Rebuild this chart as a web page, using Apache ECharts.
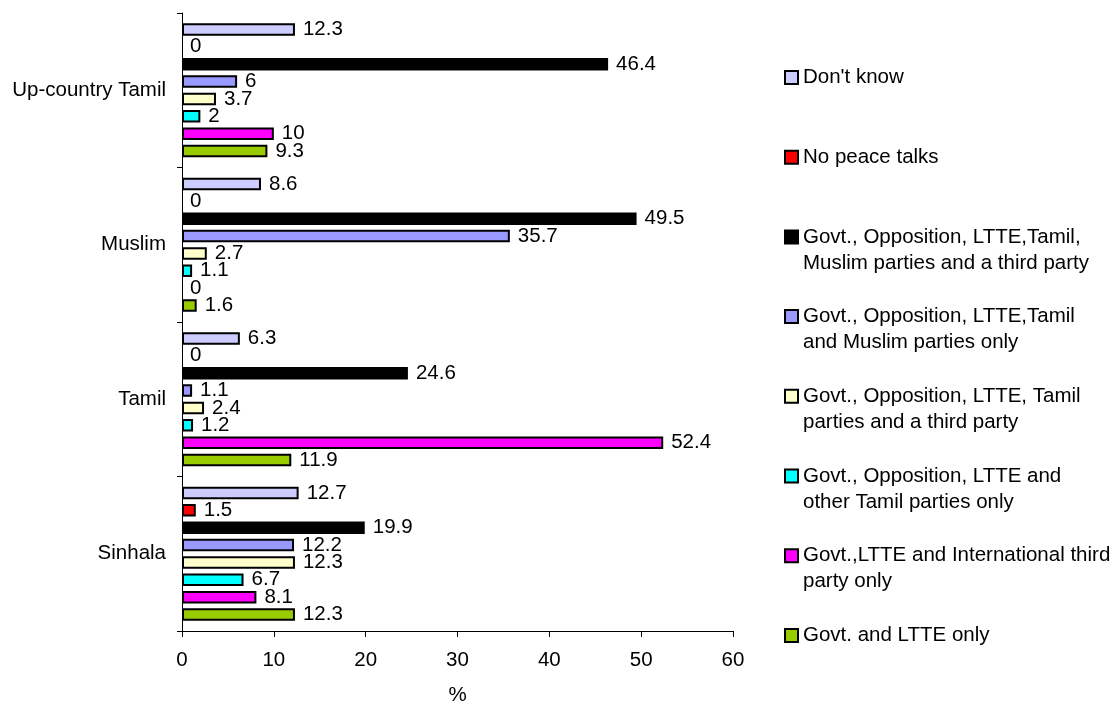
<!DOCTYPE html>
<html><head><meta charset="utf-8">
<script src="https://cdn.jsdelivr.net/npm/echarts@6/dist/echarts.min.js"></script>
<style>html,body{margin:0;padding:0;background:#fff}#c{width:1114px;height:711px}</style>
</head><body><div id="c"></div>
<script>
const categories = ['Sinhala', 'Tamil', 'Muslim', 'Up-country Tamil'];
const seriesNames = [
  "Don't know",
  "No peace talks",
  "Govt., Opposition, LTTE,Tamil,\nMuslim parties and a third party",
  "Govt., Opposition, LTTE,Tamil\nand Muslim parties only",
  "Govt., Opposition, LTTE, Tamil\nparties and a third party",
  "Govt., Opposition, LTTE and\nother Tamil parties only",
  "Govt.,LTTE and International third\nparty only",
  "Govt. and LTTE only"
];
const dontKnow           = [12.7, 6.3, 8.6, 12.3];
const noPeaceTalks       = [1.5, 0, 0, 0];
const allPartiesThird    = [19.9, 24.6, 49.5, 46.4];
const tamilMuslimOnly    = [12.2, 1.1, 35.7, 6];
const tamilThird         = [12.3, 2.4, 2.7, 3.7];
const otherTamilOnly     = [6.7, 1.2, 1.1, 2];
const internationalThird = [8.1, 52.4, 0, 10];
const govtLtteOnly       = [12.3, 11.9, 1.6, 9.3];
const xTickLabels = ['0', '10', '20', '30', '40', '50', '60'];
const xAxisName = '%';

const seriesValues = [dontKnow, noPeaceTalks, allPartiesThird, tamilMuslimOnly,
  tamilThird, otherTamilOnly, internationalThird, govtLtteOnly];
const colors = ['#CCCCFF', '#FF0000', '#000000', '#9999FF', '#FFFFCC', '#00FFFF', '#FF00FF', '#99CC00'];

const FONT = 'Arial, "Liberation Sans", sans-serif';
const FS = 20.5;
const chart = echarts.init(document.getElementById('c'), null, {renderer: 'canvas'});

const series = seriesNames.map((name, i) => ({
  name: name,
  type: 'bar',
  // zero-length bars are not outlined (as in the original chart)
  data: seriesValues[i].map(v => v === 0 ? {value: v, itemStyle: {borderWidth: 0}} : v),
  barWidth: 12.5,
  barGap: '39%',
  itemStyle: {color: colors[i], borderColor: '#000', borderWidth: 2},
  label: {show: true, position: 'right', distance: 8, color: '#000', fontSize: FS, fontFamily: FONT},
  emphasis: {disabled: true},
  animation: false
}));

const LH = 26;
const legends = seriesNames.map((name, k) => {
  const twoLine = name.indexOf('\n') >= 0;
  const cy = 77.5 + 79.7 * k;
  return {
    orient: 'vertical',
    left: 784,
    top: twoLine ? cy - 1.5 * LH : cy - LH / 2,
    padding: 0,
    data: [name],
    icon: 'rect',
    itemWidth: 13,
    itemHeight: 13,
    itemGap: 6,
    selectedMode: false,
    formatter: twoLine ? (n) => '\n' + n : (n) => n,
    itemStyle: {borderColor: '#000', borderWidth: 2},
    textStyle: {fontSize: FS, lineHeight: LH, color: '#000', fontFamily: FONT}
  };
});

chart.setOption({
  backgroundColor: '#fff',
  animation: false,
  textStyle: {fontFamily: FONT},
  grid: {left: 182, right: 381, top: 13, bottom: 73, containLabel: false},
  legend: legends,
  xAxis: {
    type: 'value', min: 0, max: 60, interval: 10,
    name: xAxisName, nameLocation: 'middle', nameGap: 54,
    nameTextStyle: {fontSize: FS, color: '#000', fontFamily: FONT},
    axisLine: {show: true, lineStyle: {color: '#000', width: 1}},
    axisTick: {show: true, length: 6, lineStyle: {color: '#000'}},
    axisLabel: {fontSize: FS, color: '#000', margin: 19, fontFamily: FONT,
      formatter: (v) => xTickLabels[Math.round(v / 10)]},
    splitLine: {show: false}
  },
  yAxis: {
    type: 'category', data: categories,
    axisLine: {show: true, lineStyle: {color: '#000', width: 1}},
    axisTick: {show: true, length: 5, alignWithLabel: false, lineStyle: {color: '#000'}},
    axisLabel: {fontSize: FS, color: '#000', margin: 16, fontFamily: FONT},
    splitLine: {show: false}
  },
  series: series
});
</script></body></html>
